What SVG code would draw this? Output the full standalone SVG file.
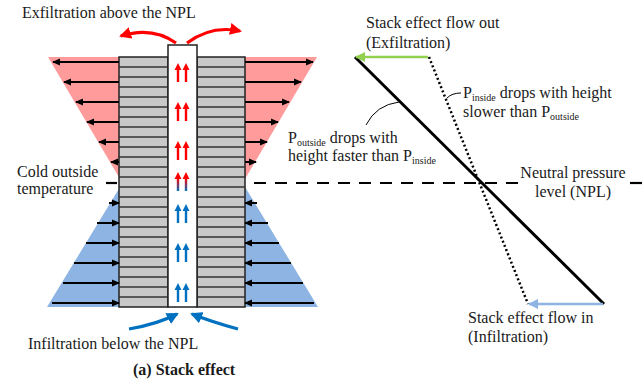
<svg xmlns="http://www.w3.org/2000/svg" width="644" height="381" viewBox="0 0 644 381">
<style>
.sub{font-size:10px}
.blk{fill:#c8c8c8;stroke:#222;stroke-width:1.5}
.fl{stroke:#333;stroke-width:1.6}
.ba{stroke:#000;stroke-width:2;marker-end:url(#ah)}
</style>
<defs>
<marker id="ah" markerUnits="userSpaceOnUse" markerWidth="8" markerHeight="8" refX="7" refY="4" orient="auto"><path d="M0,0.5 L8,4 L0,7.5 z" fill="#000"/></marker>
<marker id="rh" markerUnits="userSpaceOnUse" markerWidth="14" markerHeight="12" refX="10" refY="6" orient="auto"><path d="M0,0 L12,6 L0,12 z" fill="#ff0000"/></marker>
<marker id="bh" markerUnits="userSpaceOnUse" markerWidth="14" markerHeight="12" refX="10" refY="6" orient="auto"><path d="M0,0 L12,6 L0,12 z" fill="#0070c0"/></marker>
<marker id="gh" markerUnits="userSpaceOnUse" markerWidth="12" markerHeight="10" refX="9" refY="5" orient="auto"><path d="M0,0 L10,5 L0,10 z" fill="#92d050"/></marker>
<marker id="lh" markerUnits="userSpaceOnUse" markerWidth="12" markerHeight="10" refX="9" refY="5" orient="auto"><path d="M0,0 L10,5 L0,10 z" fill="#8db4e2"/></marker>
<path id="pair" d="M0,0 L3.5,7 L1.2,7 L1.2,19 L-1.2,19 L-1.2,7 L-3.5,7 Z M8,0 L11.5,7 L9.2,7 L9.2,19 L6.8,19 L6.8,7 L4.5,7 Z"/>
<linearGradient id="rb" x1="0" y1="0" x2="0" y2="1"><stop offset="0.35" stop-color="#ff0000"/><stop offset="1" stop-color="#0070c0"/></linearGradient>
</defs>

<g id="wedges">
<polygon points="48,57 120,57 120,179" fill="#ff9b9b"/>
<polygon points="317,57 245,57 245,179" fill="#ff9b9b"/>
<polygon points="120,187 120,307 47,307" fill="#8db4e3"/>
<polygon points="245,187 245,307 318,307" fill="#8db4e3"/>
</g>

<g id="npl-line" stroke="#000" stroke-width="2.2">
<line x1="106" y1="183" x2="117" y2="183"/>
<line x1="254" y1="183" x2="520" y2="183" stroke-dasharray="12 9"/>
<line x1="630" y1="183" x2="644" y2="183" stroke-dasharray="12 9"/>
</g>

<g id="building">
<rect class="blk" x="119" y="57" width="49" height="250"/>
<rect class="blk" x="197" y="57" width="48" height="250"/>
<g class="fl">
<path d="M119,67H168M119,77H168M119,87H168M119,97H168M119,107H168M119,117H168M119,127H168M119,137H168M119,147H168M119,157H168M119,167H168M119,177H168M119,187H168M119,197H168M119,207H168M119,217H168M119,227H168M119,237H168M119,247H168M119,257H168M119,267H168M119,277H168M119,287H168M119,297H168"/>
<path d="M197,67H245M197,77H245M197,87H245M197,97H245M197,107H245M197,117H245M197,127H245M197,137H245M197,147H245M197,157H245M197,167H245M197,177H245M197,187H245M197,197H245M197,207H245M197,217H245M197,227H245M197,237H245M197,247H245M197,257H245M197,267H245M197,277H245M197,287H245M197,297H245"/>
</g>
<rect x="168" y="45" width="29" height="262" fill="#fff" stroke="#222" stroke-width="1.5"/>
</g>

<g id="shaft-arrows">
<use href="#pair" x="178" y="63" fill="#ff0000"/>
<use href="#pair" x="178" y="102" fill="#ff0000"/>
<use href="#pair" x="178" y="141" fill="#ff0000"/>
<use href="#pair" x="178" y="172" fill="url(#rb)"/>
<use href="#pair" x="178" y="204" fill="#0070c0"/>
<use href="#pair" x="178" y="243" fill="#0070c0"/>
<use href="#pair" x="178" y="283" fill="#0070c0"/>
</g>

<g id="connectors" fill="none">
<line class="ba" x1="119" y1="62" x2="53" y2="62"/>
<line class="ba" x1="119" y1="82" x2="64" y2="82"/>
<line class="ba" x1="119" y1="102" x2="76" y2="102"/>
<line class="ba" x1="119" y1="122" x2="87" y2="122"/>
<line class="ba" x1="119" y1="142" x2="99" y2="142"/>
<line class="ba" x1="119" y1="162" x2="111" y2="162"/>
<line class="ba" x1="245" y1="62" x2="313" y2="62"/>
<line class="ba" x1="245" y1="82" x2="301" y2="82"/>
<line class="ba" x1="245" y1="102" x2="289" y2="102"/>
<line class="ba" x1="245" y1="122" x2="278" y2="122"/>
<line class="ba" x1="245" y1="142" x2="267" y2="142"/>
<line class="ba" x1="245" y1="162" x2="256" y2="162"/>
<line class="ba" x1="109" y1="203" x2="119" y2="203"/>
<line class="ba" x1="97" y1="223" x2="119" y2="223"/>
<line class="ba" x1="86" y1="243" x2="119" y2="243"/>
<line class="ba" x1="74" y1="263" x2="119" y2="263"/>
<line class="ba" x1="63" y1="283" x2="119" y2="283"/>
<line class="ba" x1="52" y1="303" x2="119" y2="303"/>
<line class="ba" x1="257" y1="203" x2="245" y2="203"/>
<line class="ba" x1="268" y1="223" x2="245" y2="223"/>
<line class="ba" x1="279" y1="243" x2="245" y2="243"/>
<line class="ba" x1="291" y1="263" x2="245" y2="263"/>
<line class="ba" x1="303" y1="283" x2="245" y2="283"/>
<line class="ba" x1="314" y1="303" x2="245" y2="303"/>
<path d="M176,43 Q152,26 121,36" stroke="#ff0000" stroke-width="3.2" marker-end="url(#rh)"/>
<path d="M187,43 Q211,25 240,31" stroke="#ff0000" stroke-width="3.2" marker-end="url(#rh)"/>
<path d="M129,329 Q158,324 177,314" stroke="#0070c0" stroke-width="3.2" marker-end="url(#bh)"/>
<path d="M238,329 Q212,322 192,314" stroke="#0070c0" stroke-width="3.2" marker-end="url(#bh)"/>
</g>

<g id="graph" fill="none">
<line x1="355" y1="57" x2="604" y2="304" stroke="#000" stroke-width="3"/>
<line x1="429" y1="57" x2="528" y2="304" stroke="#000" stroke-width="2.5" stroke-dasharray="2 2.5"/>
<line x1="428" y1="57" x2="356" y2="57" stroke="#92d050" stroke-width="2.5" marker-end="url(#gh)"/>
<line x1="603" y1="304" x2="529" y2="304" stroke="#8db4e2" stroke-width="2.5" marker-end="url(#lh)"/>
<path d="M366,125 Q376,105 399,102" stroke="#000" stroke-width="1"/>
<path d="M461,93 Q452,93 447,98" stroke="#000" stroke-width="1"/>
</g>

<g id="labels" font-family="Liberation Serif, serif" font-size="16" fill="#1a1a1a">
<text x="22" y="18">Exfiltration above the NPL</text>
<text x="17" y="177">Cold outside</text>
<text x="17" y="194">temperature</text>
<text x="28" y="349">Infiltration below the NPL</text>
<text x="133" y="375" font-weight="bold">(a) Stack effect</text>
<text x="366" y="28">Stack effect flow out</text>
<text x="366" y="48">(Exfiltration)</text>
<text x="463" y="98">P<tspan class="sub" dy="2.5">inside</tspan><tspan dy="-2.5"> drops with height</tspan></text>
<text x="463" y="117">slower than P<tspan class="sub" dy="2.5">outside</tspan></text>
<text x="288" y="143">P<tspan class="sub" dy="2.5">outside</tspan><tspan dy="-2.5"> drops with</tspan></text>
<text x="288" y="161">height faster than P<tspan class="sub" dy="2.5">inside</tspan></text>
<text x="573" y="178" text-anchor="middle">Neutral pressure</text>
<text x="573" y="197" text-anchor="middle">level (NPL)</text>
<text x="468" y="323">Stack effect flow in</text>
<text x="468" y="342">(Infiltration)</text>
</g>
</svg>
